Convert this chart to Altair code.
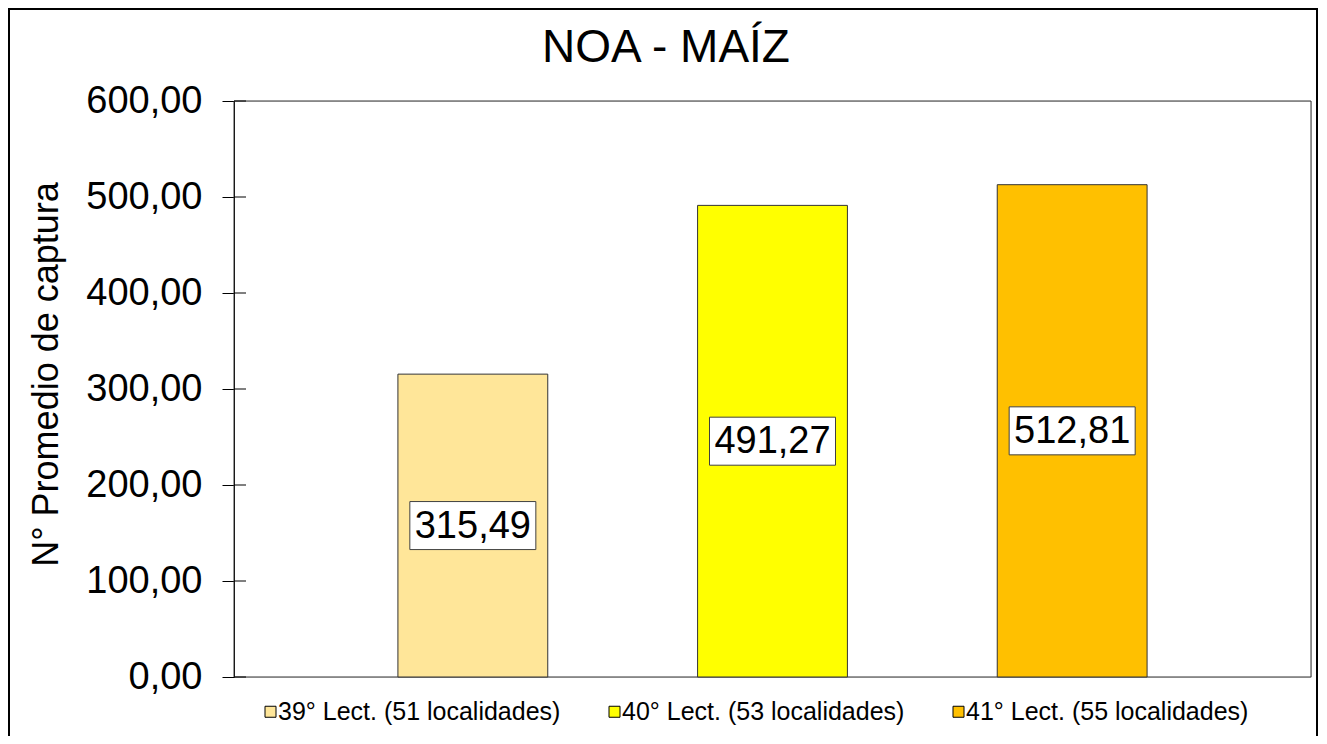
import altair as alt
import pandas as pd

# ---- data ----
lecturas = ["39° Lect. (51 localidades)", "40° Lect. (53 localidades)", "41° Lect. (55 localidades)"]
valores = [315.49, 491.27, 512.81]
colores = ["#FFE699", "#FFFF00", "#FFC000"]
ticks_y = [0, 100, 200, 300, 400, 500, 600]

titulo = "NOA - MAÍZ"
titulo_y = "N° Promedio de captura"

df = pd.DataFrame({"lectura": lecturas, "valor": valores})
df_ticks = pd.DataFrame({"tick": ticks_y})

FONT = "Liberation Sans"
W, H = 1077, 576

x_enc = alt.X("lectura:N", sort=lecturas, axis=None,
              scale=alt.Scale(paddingInner=0.5, paddingOuter=0.547))
y_scale = alt.Scale(domain=[0, 600], nice=False, zero=True)

base = alt.Chart(df)

bars = base.mark_bar(stroke="#333333", strokeWidth=1).encode(
    x=x_enc,
    y=alt.Y("valor:Q", scale=y_scale,
            axis=alt.Axis(values=ticks_y, title=titulo_y,
                          labelExpr="replace(format(datum.value, '.2f'), '.', ',')",
                          labelFont=FONT, labelFontSize=38, labelColor="black",
                          labelPadding=20, tickSize=12, tickColor="black",
                          domainColor="black", grid=False,
                          titleFont=FONT, titleFontSize=36, titleFontWeight="normal",
                          titleColor="black", titleY=273, titlePadding=20)),
    color=alt.Color("lectura:N", sort=lecturas,
                    scale=alt.Scale(domain=lecturas, range=colores),
                    legend=alt.Legend(title=None, orient="none", direction="horizontal",
                                      legendX=24, legendY=598,
                                      symbolType="square", symbolSize=121,
                                      symbolStrokeColor="black", symbolStrokeWidth=1,
                                      symbolOpacity=1, labelLimit=0,
                                      labelFont=FONT, labelFontSize=25, labelColor="black",
                                      labelOffset=alt.ExprRef(expr="-5"), columnPadding=41)),
)

cajas = base.transform_calculate(mid="datum.valor / 2").mark_point(
    shape="M-1,-0.381L1,-0.381L1,0.381L-1,0.381Z",
    size=15876, filled=True, fill="white", stroke="#404040", strokeWidth=1, opacity=1,
).encode(x=x_enc, y=alt.Y("mid:Q", scale=y_scale))

textos = base.transform_calculate(
    mid="datum.valor / 2",
    etiqueta="replace(format(datum.valor, '.2f'), '.', ',')",
).mark_text(font=FONT, fontSize=38, color="black", baseline="middle", align="center", dy=1).encode(
    x=x_enc, y=alt.Y("mid:Q", scale=y_scale), text="etiqueta:N"
)

ticks_in = alt.Chart(df_ticks).mark_rule(color="black", strokeWidth=1).encode(
    y=alt.Y("tick:Q", scale=y_scale),
    x=alt.value(0), x2=alt.value(12),
)

marco = alt.Chart(alt.Data(values=[{"a": 1}])).mark_rect(
    fillOpacity=0, stroke="black", strokeWidth=2
).encode(x=alt.value(-225), x2=alt.value(1083), y=alt.value(-92), y2=alt.value(700))

# plot-area frame (top and right edges)
borde = alt.Chart(alt.Data(values=[{"a": 1}])).mark_rect(
    fillOpacity=0, stroke="#333333", strokeWidth=1
).encode(x=alt.value(0), x2=alt.value(W), y=alt.value(0), y2=alt.value(H))

titulo_txt = alt.Chart(alt.Data(values=[{"t": titulo}])).mark_text(
    font=FONT, fontSize=46, color="black", align="center", baseline="alphabetic"
).encode(x=alt.value(432), y=alt.value(-39), text="t:N")

chart = alt.layer(marco, borde, bars, ticks_in, cajas, textos, titulo_txt).properties(
    width=W, height=H,
    autosize=alt.AutoSizeParams(type="none"),
    padding={"left": 226, "top": 93, "right": 8, "bottom": 59},
).configure_view(stroke=None).configure(background="white")

chart.save("out.html", embed_options={"renderer": "svg", "actions": False})
